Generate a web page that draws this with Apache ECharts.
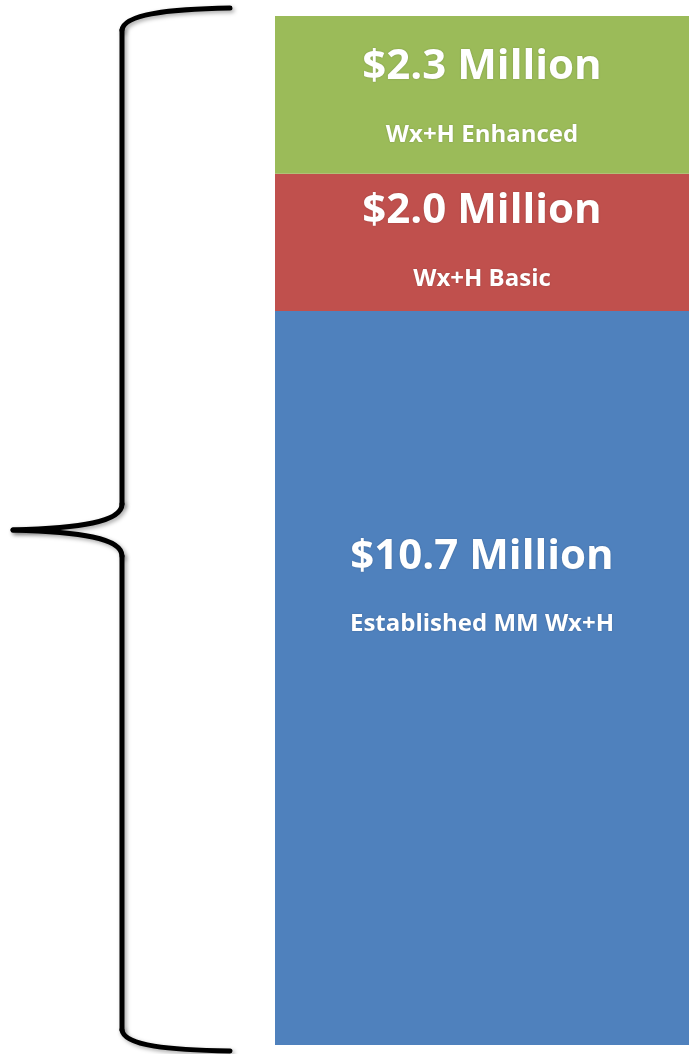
<!DOCTYPE html>
<html>
<head>
<meta charset="utf-8">
<script src="https://cdn.jsdelivr.net/npm/echarts@6/dist/echarts.min.js"></script>
<style>
  html, body { margin: 0; padding: 0; background: #ffffff; }
  #chart { width: 689px; height: 1054px; }
</style>
</head>
<body>
<div id="chart"></div>
<script>
// stacked from the bottom up
const segmentNames = ['Established MM Wx+H', 'Wx+H Basic', 'Wx+H Enhanced'];
const segmentValues = [10.7, 2.0, 2.3]; // $ million
const category = ['Total'];

const segmentColors = ['#4F81BD', '#C0504D', '#9BBB59'];
const labelTop = [226, 17, 31];      // px from top of segment to label block
const subLineHeight = [94, 96, 96];

const total = segmentValues.reduce((a, b) => a + b, 0);

const chart = echarts.init(document.getElementById('chart'));

const series = segmentNames.map((name, i) => ({
    name: name,
    type: 'bar',
    stack: 'total',
    barWidth: '100%',
    data: [segmentValues[i]],
    itemStyle: { color: segmentColors[i] },
    label: {
        show: true,
        position: ['50%', labelTop[i]],
        align: 'center',
        verticalAlign: 'top',
        formatter: (p) => '{v|$' + p.value.toFixed(1) + ' Million}\n{n|' + name + '}',
        rich: {
            v: {
                fontFamily: 'Open Sans',
                fontWeight: 'bold',
                fontSize: 42,
                lineHeight: 40,
                color: '#ffffff'
            },
            n: {
                fontFamily: 'Open Sans',
                fontWeight: 'bold',
                fontSize: 24,
                lineHeight: subLineHeight[i],
                color: '#ffffff'
            }
        },
        textShadowColor: 'rgba(0,0,0,0.2)',
        textShadowBlur: 2
    }
}));

// curly brace on the left
const braceStyle = {
    fill: null,
    stroke: '#000000',
    lineWidth: 5,
    lineCap: 'round',
    shadowColor: 'rgba(0,0,0,0.35)',
    shadowBlur: 4,
    shadowOffsetX: 2,
    shadowOffsetY: 2
};
const brace = [
    { type: 'bezierCurve', shape: { x1: 230, y1: 8, cpx1: 170, cpy1: 9, cpx2: 124, cpy2: 14, x2: 122, y2: 30 } },
    { type: 'line', shape: { x1: 122, y1: 30, x2: 122, y2: 504 } },
    { type: 'bezierCurve', shape: { x1: 122, y1: 504, cpx1: 122, cpy1: 522, cpx2: 80, cpy2: 528, x2: 13, y2: 530 } },
    { type: 'bezierCurve', shape: { x1: 13, y1: 530, cpx1: 80, cpy1: 532, cpx2: 122, cpy2: 538, x2: 122, y2: 556 } },
    { type: 'line', shape: { x1: 122, y1: 556, x2: 122, y2: 1030 } },
    { type: 'bezierCurve', shape: { x1: 122, y1: 1030, cpx1: 124, cpy1: 1046, cpx2: 170, cpy2: 1050, x2: 230, y2: 1051 } }
].map(g => Object.assign(g, { style: braceStyle, silent: true }));

const option = {
    backgroundColor: '#ffffff',
    animation: false,
    grid: { left: 275, right: 0, top: 16, bottom: 9 },
    xAxis: {
        type: 'category',
        data: category,
        show: false
    },
    yAxis: {
        type: 'value',
        min: 0,
        max: total,
        show: false
    },
    series: series,
    graphic: brace
};

chart.setOption(option);
</script>
</body>
</html>
